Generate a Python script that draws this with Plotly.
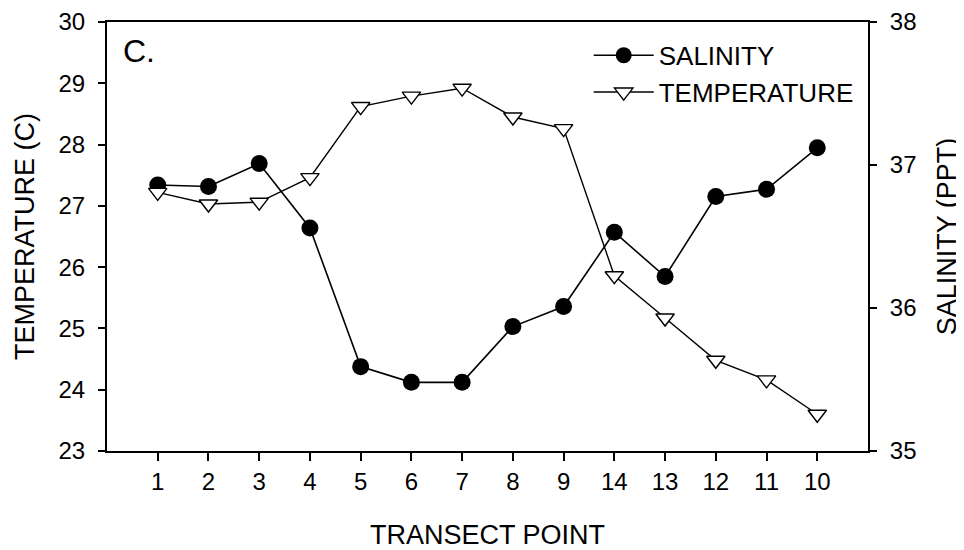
import plotly.graph_objects as go

transect_labels = ["1", "2", "3", "4", "5", "6", "7", "8", "9", "14", "13", "12", "11", "10"]
positions = list(range(1, 15))
salinity = [36.86, 36.85, 37.01, 36.56, 35.59, 35.48, 35.48, 35.87, 36.01, 36.53, 36.22, 36.78, 36.83, 37.12]
temperature = [27.22, 27.03, 27.06, 27.46, 28.62, 28.79, 28.92, 28.45, 28.26, 25.86, 25.17, 24.48, 24.16, 23.60]

FONT = "Arial, Liberation Sans, sans-serif"

fig = go.Figure()
fig.add_trace(go.Scatter(
    x=positions, y=salinity, name="SALINITY", yaxis="y", legendgroup="s",
    mode="lines+markers",
    line=dict(color="black", width=1.6),
    marker=dict(symbol="circle", size=17, color="black"),
))
fig.add_trace(go.Scatter(
    x=positions, y=temperature, name="TEMPERATURE", yaxis="y2", legendgroup="t",
    mode="lines+markers",
    line=dict(color="black", width=1.4),
    marker=dict(symbol="triangle-down", size=16, color="white",
                line=dict(color="black", width=1.4)),
))

fig.update_layout(
    width=956, height=542,
    margin=dict(l=99, r=96, t=14, b=99),
    paper_bgcolor="white", plot_bgcolor="white",
    font=dict(family=FONT, size=24, color="black"),
    showlegend=True,
    legend=dict(x=0.633, y=0.977, xanchor="left", yanchor="top",
                font=dict(size=26), bgcolor="rgba(0,0,0,0)",
                tracegroupgap=0, itemwidth=60),
    xaxis=dict(
        range=[0, 15], tickmode="array", tickvals=positions, ticktext=transect_labels,
        showline=True, linecolor="black", linewidth=2, mirror=True,
        ticks="outside", ticklen=8, tickwidth=1.5, tickcolor="black",
        showgrid=False, zeroline=False, automargin=False,
        tickfont=dict(size=24), ticklabelstandoff=0, ticklabeloverflow="allow",
        title=dict(text="TRANSECT POINT", font=dict(size=27), standoff=32),
    ),
    yaxis=dict(
        range=[35, 38], dtick=1, side="right",
        showline=True, linecolor="black", linewidth=2,
        ticks="outside", ticklen=7, tickwidth=1.5, tickcolor="black",
        showgrid=False, zeroline=False, automargin=False,
        tickfont=dict(size=24), ticklabelstandoff=8, ticklabeloverflow="allow",
        title=dict(text="SALINITY (PPT)", font=dict(size=27), standoff=22),
    ),
    yaxis2=dict(
        range=[23, 30], dtick=1, side="left", overlaying="y",
        showline=True, linecolor="black", linewidth=2,
        ticks="outside", ticklen=7, tickwidth=1.5, tickcolor="black",
        showgrid=False, zeroline=False, automargin=False,
        tickfont=dict(size=24), ticklabelstandoff=8, ticklabeloverflow="allow",
        title=dict(text="TEMPERATURE (C)", font=dict(size=27), standoff=16),
    ),
    annotations=[dict(
        text="C.", xref="paper", yref="paper", x=0.018, y=0.98,
        xanchor="left", yanchor="top", showarrow=False,
        font=dict(size=32, family=FONT, color="black"),
    )],
)

fig.write_html("out.html")
